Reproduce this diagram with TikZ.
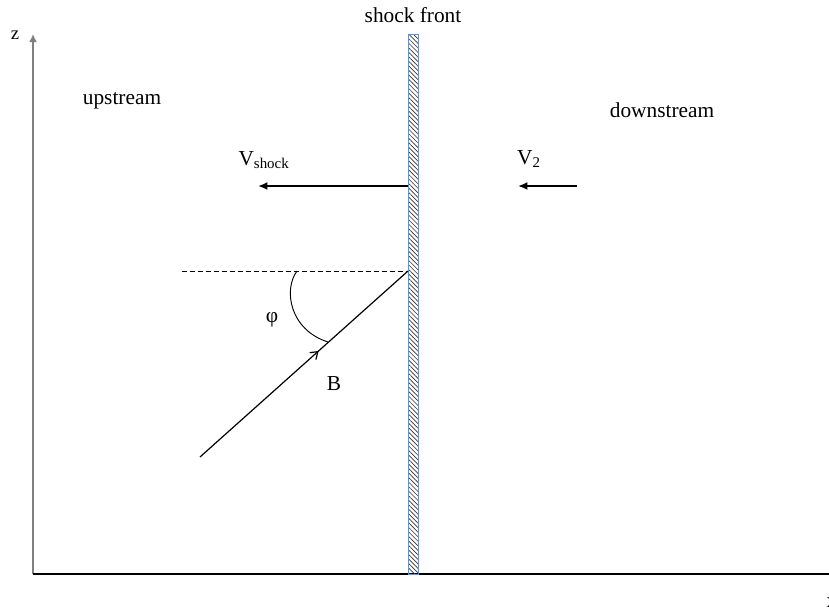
\documentclass[tikz,border=0pt]{standalone}
\usepackage{fontspec}
\setmainfont{Liberation Serif}
\usetikzlibrary{arrows.meta,positioning,patterns.meta,decorations.markings}

\definecolor{frontblue}{RGB}{110,140,200}
\definecolor{axisgray}{RGB}{128,128,128}

\tikzset{
  axis/.style={line width=1.5pt},
  flow/.style={->, line width=1.5pt},
  lbl/.style={font=\fontsize{16}{19}\selectfont},
  midarrow/.style={postaction={decorate}, decoration={markings,
      mark=at position #1 with {\arrow{Straight Barb[length=5pt,width=7pt]}}}}
}

\begin{document}
\begin{tikzpicture}[>={Latex[length=7pt,width=6pt]}, x=0.75pt, y=-0.75pt, font=\small]
  \useasboundingbox (0,0) rectangle (829,612);
  % axes
  \coordinate (O) at (33,574);
  \coordinate (ztop) at (33,34);
  \coordinate (xend) at (829,574);
  \draw[axis, axisgray, -{Latex[length=6pt,width=6pt]}] (O) -- (ztop);
  \draw[axis] (O) -- (xend);
  \node[font=\fontsize{14}{16}\selectfont] (zlab) at (15,35) {z};
  \node[lbl] (xlab) at (832,603) {x};
  % shock front
  \node[draw=frontblue, line width=0.75pt,
        pattern={Lines[angle=-45,distance=2.4pt,line width=0.5pt]}, pattern color=black!80,
        minimum width=7.5pt, minimum height=405pt, inner sep=0pt] (shock) at (413,304) {};
  \node[lbl, above=5pt of shock] (front) {shock front};
  \node[lbl] (up) at (122,101) {upstream};
  \node[lbl] (down) at (662,110) {downstream};
  % velocities
  \coordinate (vs) at (258,186);
  \coordinate (v2a) at (577,186);
  \coordinate (v2b) at (518,186);
  \draw[flow] (shock.west |- vs) -- (vs);
  \draw[flow] (v2a) -- (v2b);
  \node[lbl] (vshock) at (264,160) {V\textsubscript{shock}};
  \node[lbl] (vtwo) at (529,159) {V\textsubscript{2}};
  % field line and angle
  \coordinate (P) at (408,271);
  \coordinate (dl) at (182,271);
  \coordinate (Bs) at (200,457);
  \draw[dashed, dash pattern=on 3.5pt off 2.5pt, line width=0.6pt] (dl) -- (P);
  \draw[line width=0.9pt, midarrow=0.57] (Bs) -- (P);
  \draw[line width=0.7pt] (297,271) .. controls (283,290) and (290,330) .. (328,342);
  \node[lbl] (phi) at (272,320) {φ};
  \node[lbl] (blab) at (334,384) {B};
\end{tikzpicture}
\end{document}
